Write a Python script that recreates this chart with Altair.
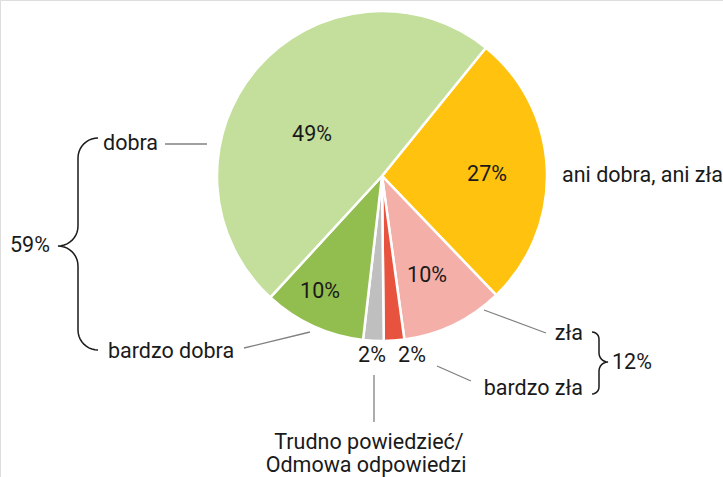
import math
import altair as alt
import pandas as pd

W, H = 723, 477

# ---- data ----
categories = ["ani dobra, ani zła", "zła", "bardzo zła",
              "Trudno powiedzieć/Odmowa odpowiedzi", "bardzo dobra", "dobra"]
values = [27, 10, 2, 2, 10, 49]
pct_labels = ["27%", "10%", "2%", "2%", "10%", "49%"]
colors = ["#FFC30F", "#F4AFA8", "#E8533F", "#BFBFBF", "#92BD4F", "#C3DF9B"]

# ---- layout ----
cx, cy, R = 382, 176, 165
start_deg = 39
pct_x = [487, 427, 412, 372, 320, 312]
pct_y = [175, 276, 356, 356, 292, 135]

ext_text = ["dobra", "bardzo dobra", "59%", "ani dobra, ani zła", "zła",
            "bardzo zła", "12%", "Trudno powiedzieć/", "Odmowa odpowiedzi"]
ext_x = [103, 108, 10, 562, 583, 583, 612, 369, 366]
ext_y = [144, 352, 246, 176, 334, 389, 363, 443, 466]
ext_align = ["left", "left", "left", "left", "right", "right", "left", "center", "center"]

lead_x1 = [165, 244, 484, 437, 374]
lead_y1 = [144, 348, 310, 366, 375]
lead_x2 = [207, 310, 546, 471, 374]
lead_y2 = [144, 332, 333, 381, 422]


def brace_pts(x_end, x_mid, x_tip, y_top, y_tip, y_bot, n=10):
    r1 = abs(x_end - x_mid)
    r2 = abs(x_tip - x_mid)
    d1 = 1 if x_end > x_mid else -1
    d2 = 1 if x_tip > x_mid else -1
    pts = []
    for i in range(n + 1):
        t = math.pi / 2 * i / n
        pts.append((x_mid + d1 * r1 * (1 - math.sin(t)), y_top + r1 * (1 - math.cos(t))))
    for i in range(n + 1):
        t = math.pi / 2 * i / n
        pts.append((x_mid + d2 * r2 * (1 - math.cos(t)), y_tip - r2 + r2 * math.sin(t)))
    for i in range(n + 1):
        t = math.pi / 2 * i / n
        pts.append((x_mid + d2 * r2 * (1 - math.sin(t)), y_tip + r2 - r2 * math.cos(t)))
    for i in range(n + 1):
        t = math.pi / 2 * i / n
        pts.append((x_mid + d1 * r1 * (1 - math.cos(t)), y_bot - r1 + r1 * math.sin(t)))
    return pts


left = brace_pts(98, 78, 58, 138, 246, 350)
right = brace_pts(592, 599, 608, 332, 362, 394, n=6)
brace_rows = []
for name, pts in (("L", left), ("R", right)):
    for k, (px, py) in enumerate(pts):
        brace_rows.append({"b": name, "k": k, "x": px, "y": py})
brace_df = pd.DataFrame(brace_rows)

pie_df = pd.DataFrame({"cat": categories, "v": values, "o": list(range(len(values)))})
pct_df = pd.DataFrame({"t": pct_labels, "x": pct_x, "y": pct_y})
ext_df = pd.DataFrame({"t": ext_text, "x": ext_x, "y": ext_y, "a": ext_align})
lead_df = pd.DataFrame({"x": lead_x1, "y": lead_y1, "x2": lead_x2, "y2": lead_y2})

xs = alt.Scale(domain=[0, W], range=[0, W], nice=False, zero=False)
ys = alt.Scale(domain=[0, H], range=[0, H], nice=False, zero=False)
start = math.radians(start_deg)

FONT = "Roboto"
FS = 21.5
TXT = "#1a1a1a"

pie = alt.Chart(pie_df).mark_arc(outerRadius=R, stroke="white", strokeWidth=2.5).encode(
    theta=alt.Theta("v:Q", stack=True, scale=alt.Scale(domain=[0, 100], range=[start, start + 2 * math.pi])),
    color=alt.Color("cat:N", scale=alt.Scale(domain=categories, range=colors), legend=None),
    order=alt.Order("o:Q"),
    x=alt.value(cx), y=alt.value(cy),
)

pct = alt.Chart(pct_df).mark_text(font=FONT, fontSize=FS, color=TXT, baseline="middle", align="center").encode(
    x=alt.X("x:Q", scale=xs, axis=None), y=alt.Y("y:Q", scale=ys, axis=None), text="t:N")

leads = alt.Chart(lead_df).mark_rule(color="#808080", strokeWidth=1.3).encode(
    x=alt.X("x:Q", scale=xs, axis=None), y=alt.Y("y:Q", scale=ys, axis=None), x2="x2:Q", y2="y2:Q")

braces = alt.Chart(brace_df).mark_line(color="#1a1a1a", strokeWidth=1.5).encode(
    x=alt.X("x:Q", scale=xs, axis=None), y=alt.Y("y:Q", scale=ys, axis=None),
    detail="b:N", order="k:Q")

layers = [pie, pct, leads, braces]
for al in ["left", "right", "center"]:
    sub = ext_df[ext_df["a"] == al]
    layers.append(alt.Chart(sub).mark_text(font=FONT, fontSize=FS, color=TXT, baseline="middle", align=al).encode(
        x=alt.X("x:Q", scale=xs, axis=None), y=alt.Y("y:Q", scale=ys, axis=None), text="t:N"))

chart = alt.layer(*layers).properties(
    width=W, height=H, autosize=alt.AutoSizeParams(type="none"), padding=0,
).configure_view(stroke=None).configure(background="white")

chart.save("out.html", embed_options={"renderer": "svg", "actions": False})
